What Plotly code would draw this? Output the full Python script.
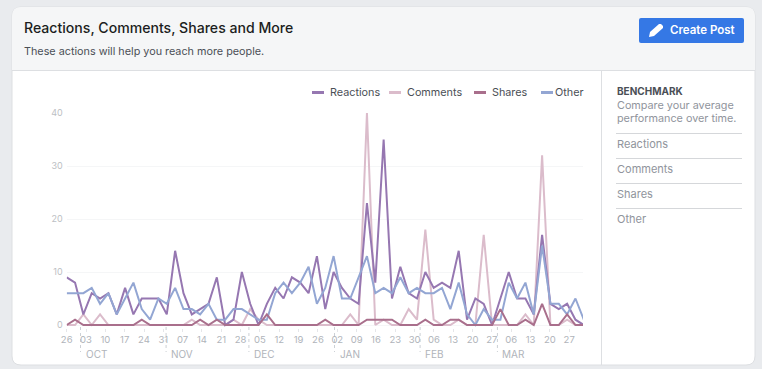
import pandas as pd
import plotly.graph_objects as go

W, H = 762, 369
FONT = "Inter, 'Noto Sans', sans-serif"

start_date = "2018-09-26"
reactions = [9,8,2,6,5,6,2,7,2,5,5,5,2,14,6,2,3,4,9,0,1,10,4,0,4,7,5,9,8,6,13,3,10,7,5,4,23,8,35,5,11,6,5,10,7,8,7,14,1,5,4,0,5,10,5,5,2,17,4,3,4,1,0]
comments  = [0,0,2,0,2,0,0,0,0,0,0,0,0,0,0,1,0,0,0,0,1,0,3,1,0,0,0,0,0,0,0,0,0,0,2,0,40,0,1,0,0,3,1,18,1,0,0,1,0,0,17,0,0,0,0,2,0,32,0,0,1,0,0]
shares    = [0,1,0,0,0,0,0,0,0,1,0,0,0,0,0,0,1,0,1,0,0,0,0,0,2,0,0,0,0,0,0,1,0,0,0,0,1,1,1,1,0,0,0,1,0,0,1,1,0,0,0,0,3,0,0,1,0,4,0,0,2,0,0]
other     = [6,6,6,7,4,6,2,5,8,3,1,5,4,7,3,3,2,4,1,1,3,3,2,1,1,6,8,6,8,11,4,7,13,5,5,9,13,6,7,6,9,6,7,6,6,7,3,8,2,0,3,1,1,8,5,8,2,15,4,4,2,5,1]

series_names = ["Reactions", "Comments", "Shares", "Other"]
series_colors = ["#9677b1", "#dbbccb", "#a96f8c", "#93a6d3"]
draw_order = [1, 0, 3, 2]
series_values = [reactions, comments, shares, other]

dates = pd.date_range(start_date, periods=len(reactions), freq="72h30min")
tick_dates = pd.date_range(start_date, periods=27, freq="7D")
month_starts = ["2018-10-01", "2018-11-01", "2018-12-01", "2019-01-01", "2019-02-01", "2019-03-01"]
month_labels = ["OCT", "NOV", "DEC", "JAN", "FEB", "MAR"]
y_ticks = [0, 10, 20, 30, 40]

def px(x): return x / W
def py(y): return 1 - y / H

def rrect(x0, y0, x1, y1, r):
    return (f"M{px(x0+r)},{py(y0)} L{px(x1-r)},{py(y0)} Q{px(x1)},{py(y0)} {px(x1)},{py(y0+r)} "
            f"L{px(x1)},{py(y1-r)} Q{px(x1)},{py(y1)} {px(x1-r)},{py(y1)} "
            f"L{px(x0+r)},{py(y1)} Q{px(x0)},{py(y1)} {px(x0)},{py(y1-r)} "
            f"L{px(x0)},{py(y0+r)} Q{px(x0)},{py(y0)} {px(x0+r)},{py(y0)} Z")

def poly(points):
    return "M" + " L".join(f"{px(a)},{py(b)}" for a, b in points) + " Z"

def hline(x0, x1, y, color, width=1):
    return dict(type="line", xref="paper", yref="paper", x0=px(x0), x1=px(x1), y0=py(y), y1=py(y),
                line=dict(color=color, width=width), layer="below")

def vline(x, y0, y1, color):
    return dict(type="line", xref="paper", yref="paper", x0=px(x), x1=px(x), y0=py(y0), y1=py(y1),
                line=dict(color=color, width=1), layer="below")

def text(x, y, s, size, color, weight=400, anchor="left"):
    return dict(xref="paper", yref="paper", x=px(x), y=py(y), text=s, showarrow=False,
                xanchor=anchor, yanchor="middle", align=anchor,
                font=dict(family=FONT, size=size, color=color, weight=weight), borderpad=0)

shapes = [
    dict(type="path", xref="paper", yref="paper", path=rrect(12, 7, 755, 365, 9),
         fillcolor="#ffffff", line=dict(color="#dddfe2", width=1), layer="below"),
    dict(type="path", xref="paper", yref="paper",
         path=(f"M{px(12)},{py(70)} L{px(12)},{py(16)} Q{px(12)},{py(7)} {px(21)},{py(7)} "
               f"L{px(746)},{py(7)} Q{px(755)},{py(7)} {px(755)},{py(16)} L{px(755)},{py(70)} Z"),
         fillcolor="#f5f6f7", line=dict(width=0), layer="below"),
    hline(12, 755, 70.5, "#dddfe2"),
    vline(601.5, 70, 365, "#dddfe2"),
    dict(type="path", xref="paper", yref="paper", path=rrect(639, 18, 744, 43, 2),
         fillcolor="#3578e5", line=dict(width=0), layer="below"),
    dict(type="path", xref="paper", yref="paper",
         path=poly([(649, 37), (650, 32), (659, 24), (661, 24), (663, 26), (663, 28), (654, 36)]),
         fillcolor="#ffffff", line=dict(width=0), layer="above"),
]
for y in [133.5, 158.5, 183.5, 208.5]:
    shapes.append(hline(616, 742, y, "#d5d7da"))

for m in month_starts:
    shapes.append(dict(type="line", xref="x", yref="paper", x0=m, x1=m, y0=py(327), y1=py(352),
                       line=dict(color="#ccd0d5", width=1, dash="dot"), layer="below"))

annotations = [
    text(22.5, 28, "Reactions, Comments, Shares and More", 14.1, "#1c1e21", 500),
    text(22.5, 52, "These actions will help you reach more people.", 10.8, "#4b4f56"),
    text(668.5, 30.5, "Create Post", 11.5, "#ffffff", 600),
    text(615.5, 91, "BENCHMARK", 10, "#4b4f56", 700),
    text(615.5, 105, "Compare your average", 10.8, "#90949c"),
    text(615.5, 119, "performance over time.", 10.8, "#90949c"),
    text(615.5, 144, "Reactions", 11, "#90949c"),
    text(615.5, 169, "Comments", 11, "#90949c"),
    text(615.5, 194, "Shares", 11, "#90949c"),
    text(615.5, 219, "Other", 11, "#90949c"),
]
for m, lab in zip(month_starts, month_labels):
    annotations.append(dict(xref="x", yref="paper", x=m, y=py(354), xshift=3, text=lab, showarrow=False,
                            xanchor="left", yanchor="middle",
                            font=dict(family=FONT, size=10, color="#b0b4ba")))

legend_swatch_x = [312, 389, 474, 541]
legend_text_x = [328.5, 405.5, 490.5, 553.5]
for name, color, sx, tx in zip(series_names, series_colors, legend_swatch_x, legend_text_x):
    shapes.append(hline(sx, sx + 12, 92.5, color, 3))
    annotations.append(text(tx, 92.5, name, 10.8, "#4b4f56"))

fig = go.Figure()
for i in draw_order:
    fig.add_trace(go.Scatter(x=dates, y=series_values[i], name=series_names[i], mode="lines",
                             line=dict(color=series_colors[i], width=2), cliponaxis=False,
                             showlegend=False))

fig.update_layout(
    width=W, height=H,
    margin=dict(l=0, r=0, t=0, b=0, autoexpand=False),
    paper_bgcolor="#e9ebee", plot_bgcolor="rgba(0,0,0,0)",
    showlegend=False, shapes=shapes, annotations=annotations,
    font=dict(family=FONT),
    xaxis=dict(domain=[px(66.7), px(583)], type="date",
               range=[start_date, pd.Timestamp(start_date) + pd.Timedelta(days=187)],
               tickmode="array", tickvals=list(tick_dates), ticktext=[d.strftime("%d") for d in tick_dates],
               ticks="outside", ticklen=3, tickcolor="#e5e6e9", tickwidth=1,
               tickfont=dict(family=FONT, size=9.5, color="#b0b4ba"),
               showgrid=False, zeroline=False, showline=False, ticklabelstandoff=0),
    yaxis=dict(domain=[py(327.65), py(113)], range=[-0.5, 40], tickmode="array", tickvals=y_ticks,
               ticks="", tickfont=dict(family=FONT, size=9, color="#bcc0c4"),
               showgrid=True, gridcolor="#f5f6f7", gridwidth=1, zeroline=False, showline=False,
               ticklabelstandoff=3),
)

fig.write_html("out.html", config={"displayModeBar": False},
               post_script="document.body.style.margin='0';document.body.style.overflow='hidden';")
